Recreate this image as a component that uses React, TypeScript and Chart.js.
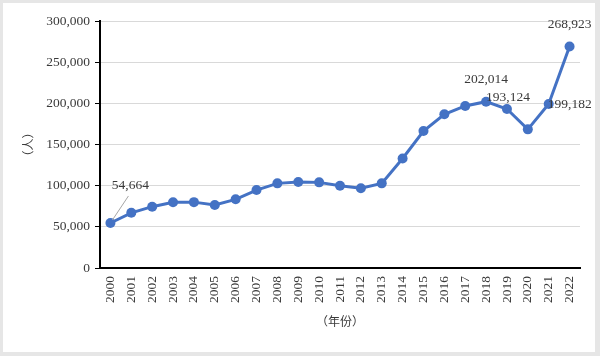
import React, { useEffect, useRef } from "react";
import { Chart, registerables } from "chart.js";

Chart.register(...registerables);

const years = ["2000","2001","2002","2003","2004","2005","2006","2007","2008","2009","2010","2011","2012","2013","2014","2015","2016","2017","2018","2019","2020","2021","2022"];
const people = [54664, 67000, 74500, 79800, 80000, 76500, 83400, 94700, 102800, 104400, 104000, 100000, 96800, 102800, 133000, 166400, 186700, 196800, 202014, 193124, 168400, 199182, 268923];
const labelledYears = ["2000", "2018", "2019", "2021", "2022"];
const yTitle = "（人）";
const xTitle = "（年份）";

const FONT = "'Liberation Serif', 'Noto Sans CJK SC', serif";
const TEXT = "#3a3a3a";

const framePlugin = {
  id: "frame",
  beforeDraw(chart: any) {
    const { ctx, width, height } = chart;
    ctx.save();
    ctx.fillStyle = "#e6e6e6";
    ctx.fillRect(0, 0, width, height);
    ctx.fillStyle = "#ffffff";
    ctx.fillRect(3, 3, width - 8, height - 7);
    ctx.restore();
  },
};

const labelPlugin = {
  id: "valueLabels",
  afterDatasetsDraw(chart: any) {
    const { ctx } = chart;
    const meta = chart.getDatasetMeta(0);
    ctx.save();
    ctx.font = "13.5px " + FONT;
    ctx.fillStyle = TEXT;
    ctx.textAlign = "center";
    ctx.textBaseline = "middle";
    labelledYears.forEach((yr) => {
      const i = years.indexOf(yr);
      const pt = meta.data[i];
      const txt = people[i].toLocaleString("en-US");
      let dx = 0, dy = -22;
      if (yr === "2000") {
        dx = 20; dy = -38;
        ctx.save();
        ctx.strokeStyle = "#a6a6a6";
        ctx.lineWidth = 1;
        ctx.beginPath();
        ctx.moveTo(pt.x + 2, pt.y - 3);
        ctx.lineTo(pt.x + 18, pt.y - 27);
        ctx.stroke();
        ctx.restore();
      } else if (yr === "2019") {
        dx = 1; dy = -12;
      } else if (yr === "2021") {
        dx = 21; dy = 0;
      }
      ctx.fillText(txt, pt.x + dx, pt.y + dy);
    });
    ctx.restore();
  },
};

export default function App() {
  const ref = useRef<HTMLCanvasElement>(null);
  useEffect(() => {
    document.body.style.margin = "0";
    const chart = new Chart(ref.current as HTMLCanvasElement, {
      type: "line",
      data: {
        labels: years,
        datasets: [
          {
            data: people,
            borderColor: "#4472C4",
            backgroundColor: "#4472C4",
            borderWidth: 3,
            pointRadius: 5,
            pointBackgroundColor: "#4472C4",
            pointBorderColor: "#4472C4",
            pointBorderWidth: 0,
            tension: 0,
          },
        ],
      },
      options: {
        responsive: false,
        animation: false,
        devicePixelRatio: 1,
        layout: { padding: { top: 21, right: 20, bottom: 0, left: 0 } },
        plugins: { legend: { display: false }, tooltip: { enabled: false } },
        scales: {
          x: {
            offset: true,
            grid: { display: false, drawTicks: false },
            border: { color: "#000000", width: 2 },
            ticks: {
              minRotation: 90,
              maxRotation: 90,
              autoSkip: false,
              padding: 8,
              color: TEXT,
              font: { family: FONT, size: 13.5 },
            },
            title: {
              display: true,
              text: xTitle,
              color: TEXT,
              font: { family: FONT, size: 12 },
              padding: { top: 0, bottom: 26 },
            },
            afterFit(scale: any) {
              scale.height = 88;
            },
          },
          y: {
            min: 0,
            max: 300000,
            grid: { color: "#d9d9d9", lineWidth: 1, tickColor: "#000000", tickLength: 5 },
            border: { color: "#000000", width: 2 },
            ticks: {
              stepSize: 50000,
              padding: 5,
              color: TEXT,
              font: { family: FONT, size: 13.5 },
              callback: (v: any) => Number(v).toLocaleString("en-US"),
            },
            title: {
              display: true,
              text: yTitle,
              color: TEXT,
              font: { family: FONT, size: 12 },
              padding: { top: 23, bottom: 0 },
            },
            afterFit(scale: any) {
              scale.width = 100;
            },
          },
        },
      },
      plugins: [framePlugin, labelPlugin],
    });
    return () => chart.destroy();
  }, []);
  return (
    <div style={{ width: 600, height: 356 }}>
      <canvas ref={ref} width={600} height={356} style={{ display: "block" }} />
    </div>
  );
}
